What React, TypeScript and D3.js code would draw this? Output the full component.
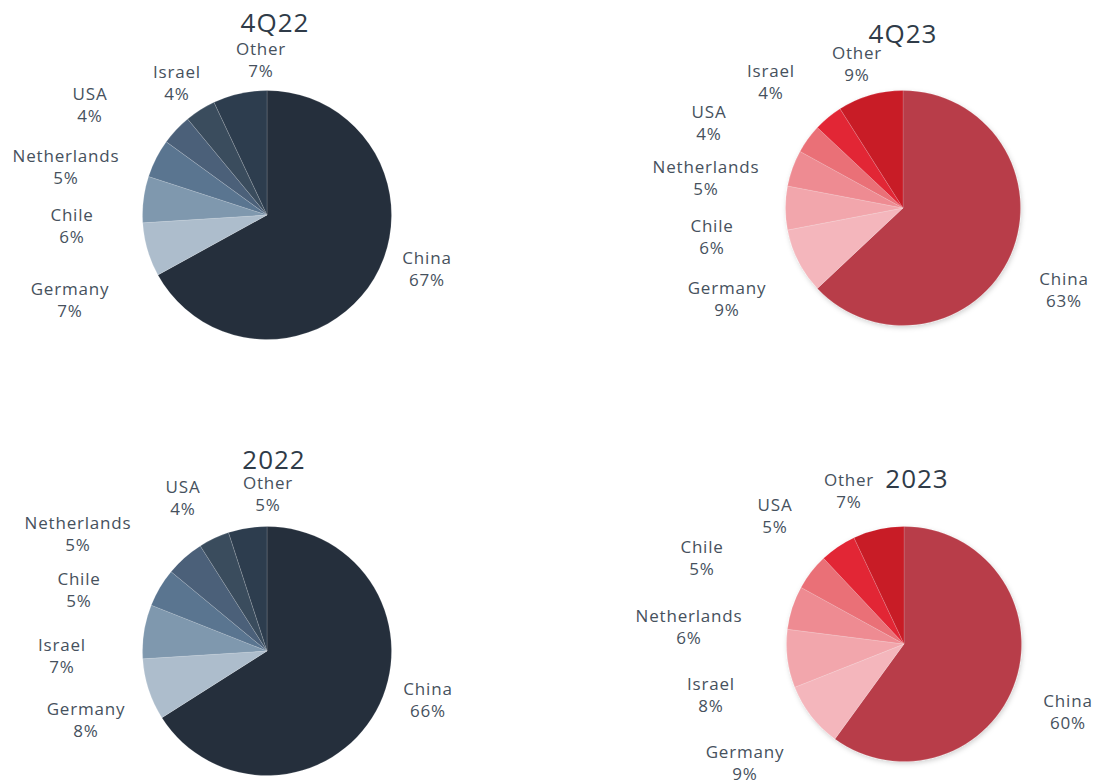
import React from "react";
import * as d3 from "d3";

// ---- Data ----
const pie4Q22Labels = ["China", "Germany", "Chile", "Netherlands", "USA", "Israel", "Other"];
const pie4Q22Values = [67, 7, 6, 5, 4, 4, 7];

const pie4Q23Labels = ["China", "Germany", "Chile", "Netherlands", "USA", "Israel", "Other"];
const pie4Q23Values = [63, 9, 6, 5, 4, 4, 9];

const pie2022Labels = ["China", "Germany", "Israel", "Chile", "Netherlands", "USA", "Other"];
const pie2022Values = [66, 8, 7, 5, 5, 4, 5];

const pie2023Labels = ["China", "Germany", "Israel", "Netherlands", "Chile", "USA", "Other"];
const pie2023Values = [60, 9, 8, 6, 5, 5, 7];

const chartTitles = ["4Q22", "4Q23", "2022", "2023"];

// ---- Styles ----
const blueColors = ["#252f3c", "#adbdcc", "#7f98ae", "#5a7590", "#4b6079", "#3a4c5d", "#2d3d4e"];
const redColors = ["#b83e4a", "#f4b6bc", "#f2a6ac", "#ee8b92", "#ea6f77", "#e22535", "#c81a26"];

// ---- Layout (pie center, radius, label offsets relative to center) ----
const layouts = [
  {
    cx: 267, cy: 215, r: 124.5, colors: blueColors, shadow: false,
    title: [8, -193],
    labels: [[160, 54], [-197, 85], [-195, 11], [-201, -48], [-177, -110], [-90, -132], [-6, -155]],
  },
  {
    cx: 903, cy: 208, r: 117.5, colors: redColors, shadow: true,
    title: [0, -175],
    labels: [[161, 82], [-176, 91], [-191, 29], [-197, -30], [-194, -85], [-132, -126], [-46, -144]],
  },
  {
    cx: 267, cy: 651, r: 124.5, colors: blueColors, shadow: false,
    title: [7, -192],
    labels: [[161, 49], [-181, 69], [-205, 5], [-188, -61], [-189, -117], [-84, -153], [1, -157]],
  },
  {
    cx: 904, cy: 644, r: 117.5, colors: redColors, shadow: true,
    title: [13, -166],
    labels: [[164, 68], [-159, 119], [-193, 51], [-215, -17], [-202, -86], [-129, -128], [-55, -153]],
  },
];

const datasets = [
  { labels: pie4Q22Labels, values: pie4Q22Values },
  { labels: pie4Q23Labels, values: pie4Q23Values },
  { labels: pie2022Labels, values: pie2022Values },
  { labels: pie2023Labels, values: pie2023Values },
];

const FONT = "'Open Sans', 'Noto Sans', sans-serif";

function Pie({ idx }: { idx: number }) {
  const ds = datasets[idx];
  const lay = layouts[idx];
  const pieGen = d3.pie<number>().sort(null).value((d) => d);
  const arcs = pieGen(ds.values);
  const arcGen = d3.arc<d3.PieArcDatum<number>>().innerRadius(0).outerRadius(lay.r);
  return (
    <g transform={`translate(${lay.cx},${lay.cy})`}>
      <g filter={lay.shadow ? "url(#pieShadow)" : undefined}>
        {arcs.map((a, i) => (
          <path
            key={i}
            d={arcGen(a) || ""}
            fill={lay.colors[i]}
            stroke="rgba(255,255,255,0.25)"
            strokeWidth={0.6}
          />
        ))}
      </g>
      <text
        x={lay.title[0]}
        y={lay.title[1]}
        textAnchor="middle"
        dominantBaseline="central"
        fontFamily={FONT}
        fontSize={26}
        letterSpacing={1}
        fill="#2f3b48"
      >
        {chartTitles[idx]}
      </text>
      {ds.labels.map((lab, i) => (
        <text
          key={lab}
          x={lay.labels[i][0]}
          y={lay.labels[i][1]}
          textAnchor="middle"
          fontFamily={FONT}
          fontSize={17}
          letterSpacing={0.8}
          fill="#46515d"
        >
          <tspan x={lay.labels[i][0]} dy={-5}>{lab}</tspan>
          <tspan x={lay.labels[i][0]} dy={22}>{`${ds.values[i]}%`}</tspan>
        </text>
      ))}
    </g>
  );
}

export default function App() {
  return (
    <svg
      width={1098}
      height={782}
      style={{ position: "absolute", left: 0, top: 0, background: "#ffffff" }}
    >
      <defs>
        <filter id="pieShadow" x="-20%" y="-20%" width="140%" height="140%">
          <feDropShadow dx="1" dy="2" stdDeviation="2.5" floodColor="#000" floodOpacity="0.18" />
        </filter>
      </defs>
      {layouts.map((_, i) => (
        <Pie key={i} idx={i} />
      ))}
    </svg>
  );
}
